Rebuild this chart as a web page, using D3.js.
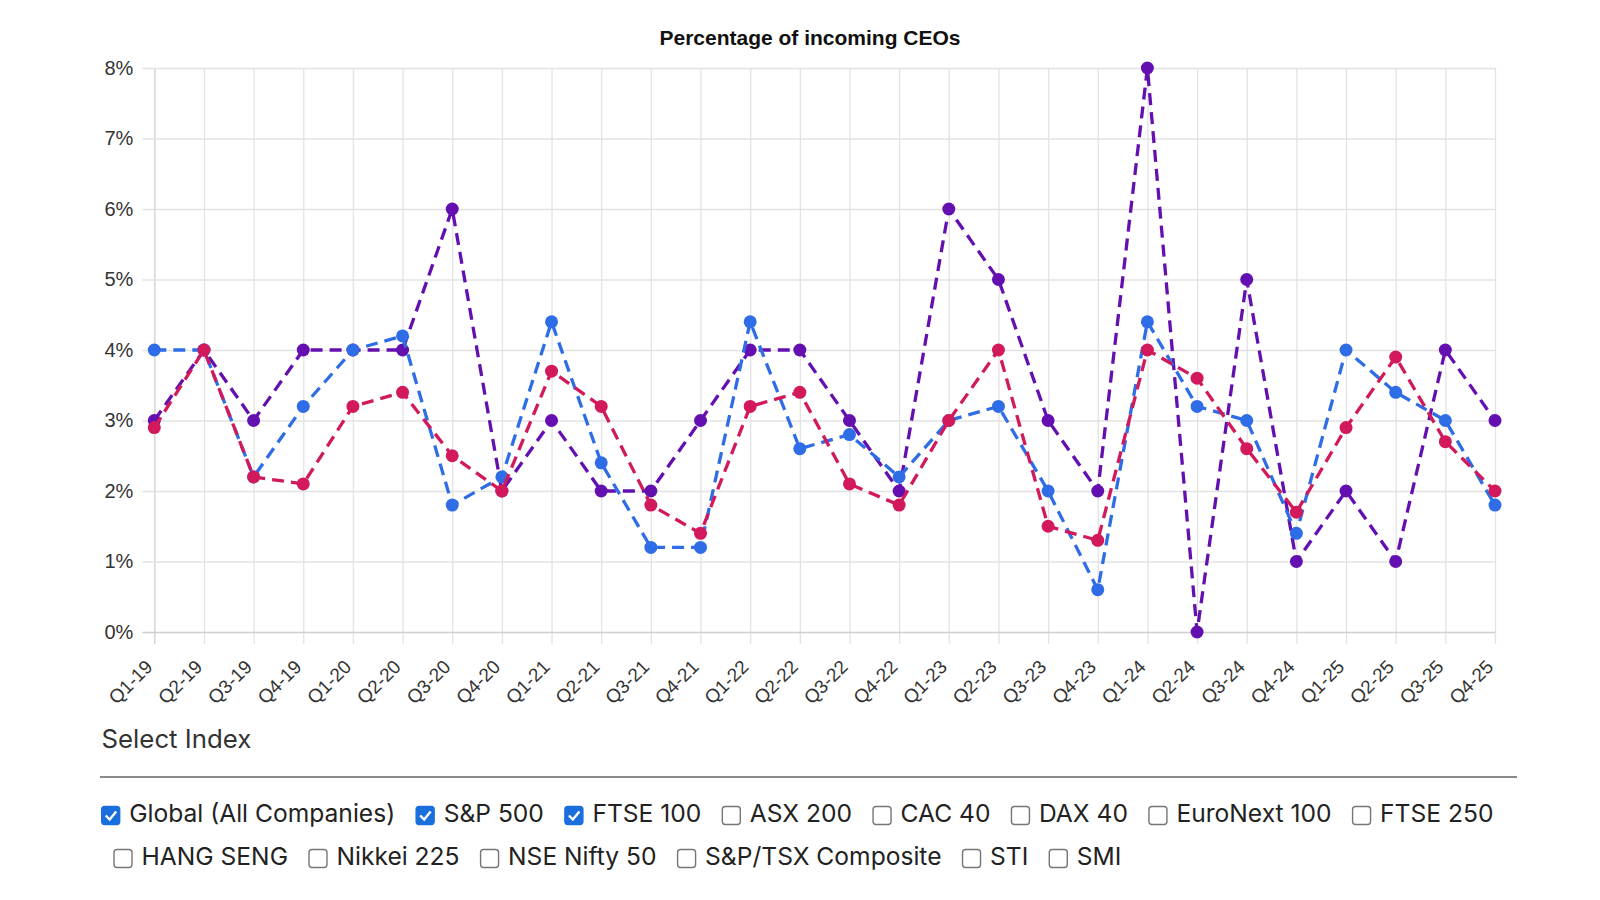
<!DOCTYPE html>
<html>
<head>
<meta charset="utf-8">
<script src="https://cdn.jsdelivr.net/npm/d3@7"></script>
<style>
  html, body { margin: 0; padding: 0; background: #fff; }
  svg { display: block; }
</style>
</head>
<body>
<svg></svg>
<script>

/* data */
var quarters = ['Q1-19','Q2-19','Q3-19','Q4-19','Q1-20','Q2-20','Q3-20','Q4-20',
  'Q1-21','Q2-21','Q3-21','Q4-21','Q1-22','Q2-22','Q3-22','Q4-22',
  'Q1-23','Q2-23','Q3-23','Q4-23','Q1-24','Q2-24','Q3-24','Q4-24',
  'Q1-25','Q2-25','Q3-25','Q4-25'];
var global_vals = [2.9, 4.0, 2.2, 2.1, 3.2, 3.4, 2.5, 2.0, 3.7, 3.2, 1.8, 1.4, 3.2, 3.4,
  2.1, 1.8, 3.0, 4.0, 1.5, 1.3, 4.0, 3.6, 2.6, 1.7, 2.9, 3.9, 2.7, 2.0];
var sp500_vals = [4.0, 4.0, 2.2, 3.2, 4.0, 4.2, 1.8, 2.2, 4.4, 2.4, 1.2, 1.2, 4.4, 2.6,
  2.8, 2.2, 3.0, 3.2, 2.0, 0.6, 4.4, 3.2, 3.0, 1.4, 4.0, 3.4, 3.0, 1.8];
var ftse100_vals = [3, 4, 3, 4, 4, 4, 6, 2, 3, 2, 2, 3, 4, 4,
  3, 2, 6, 5, 3, 2, 8, 0, 5, 1, 2, 1, 4, 3];
var yTicks = [0, 1, 2, 3, 4, 5, 6, 7, 8];
var indexNames = ['Global (All Companies)', 'S&P 500', 'FTSE 100', 'ASX 200', 'CAC 40',
  'DAX 40', 'EuroNext 100', 'FTSE 250', 'HANG SENG', 'Nikkei 225', 'NSE Nifty 50',
  'S&P/TSX Composite', 'STI', 'SMI'];
var selected = ['Global (All Companies)', 'S&P 500', 'FTSE 100'];
var title = 'Percentage of incoming CEOs';

/* series, drawn bottom to top */
var series = [
  {name: 'FTSE 100', values: ftse100_vals, color: '#6410b0'},
  {name: 'S&P 500', values: sp500_vals, color: '#2f6de6'},
  {name: 'Global (All Companies)', values: global_vals, color: '#d2195b'}
];

/* svg setting */
var svgWidth = 1600;
var svgHeight = 900;
var plot = {left: 154.3, right: 1495, top: 68, bottom: 632};
var chartFont = '"Liberation Sans", Arial, sans-serif';
var uiFont = 'Inter, Roboto, sans-serif';
var scale = {};

var svg = d3.select('svg')
    .attr('width', svgWidth)
    .attr('height', svgHeight);

setScale();
drawGrid();
drawAxisLabels();
drawSeries();
drawTitle();
drawLegend();

function setScale(){
  scale.x = d3.scalePoint()
      .domain(quarters)
      .range([plot.left, plot.right]);
  scale.y = d3.scaleLinear()
      .domain([0, 8])
      .range([plot.bottom, plot.top]);
}

function drawGrid(){
  var xg = svg.append('g')
      .attr('class', 'x_grid')
      .attr('transform', translate(0, plot.bottom + 12))
      .call(d3.axisBottom(scale.x).tickSize(-(plot.bottom - plot.top + 12)).tickFormat(''));
  xg.select('.domain').remove();
  xg.selectAll('line').attr('stroke', '#e3e3e3').attr('stroke-width', 1.3);

  var yg = svg.append('g')
      .attr('class', 'y_grid')
      .attr('transform', translate(plot.left - 12, 0))
      .call(d3.axisLeft(scale.y).tickValues(yTicks)
        .tickSize(-(plot.right - plot.left + 12)).tickFormat(''));
  yg.select('.domain').remove();
  yg.selectAll('line')
      .attr('stroke', function(d){ return d === 0 ? '#cfcfcf' : '#e3e3e3'; })
      .attr('stroke-width', 1.3);

  // left axis line a little darker
  xg.selectAll('.tick').filter(function(d, i){ return i === 0; })
      .select('line').attr('stroke', '#cfcfcf');
}

function drawAxisLabels(){
  var ya = svg.append('g')
      .attr('class', 'y_axis')
      .attr('transform', translate(plot.left - 12, 0))
      .call(d3.axisLeft(scale.y).tickValues(yTicks).tickSize(0).tickPadding(9)
        .tickFormat(function(d){ return d + '%'; }));
  ya.select('.domain').remove();
  ya.selectAll('text')
      .attr('font-family', chartFont)
      .attr('font-size', 20)
      .attr('fill', '#333');

  var xa = svg.append('g')
      .attr('class', 'x_axis')
      .attr('transform', translate(0, plot.bottom))
      .call(d3.axisBottom(scale.x).tickSize(0));
  xa.select('.domain').remove();
  xa.selectAll('text')
      .attr('font-family', chartFont)
      .attr('font-size', 19)
      .attr('fill', '#333')
      .attr('text-anchor', 'end')
      .attr('x', 0).attr('y', 0).attr('dy', 0)
      .attr('transform', 'translate(-1,36) rotate(-45)');
}

function drawSeries(){
  var line = d3.line()
      .x(function(d, i){ return scale.x(quarters[i]); })
      .y(function(d){ return scale.y(d); });

  series.forEach(function(s){
    var g = svg.append('g').attr('class', 'series');
    g.append('path')
        .datum(s.values)
        .attr('d', line)
        .attr('fill', 'none')
        .attr('stroke', s.color)
        .attr('stroke-width', 3.3)
        .attr('stroke-dasharray', '12,7');
    g.selectAll('circle')
        .data(s.values)
        .enter()
        .append('circle')
        .attr('cx', function(d, i){ return scale.x(quarters[i]); })
        .attr('cy', function(d){ return scale.y(d); })
        .attr('r', 6.5)
        .attr('fill', s.color);
  });
}

function drawTitle(){
  svg.append('text')
      .attr('x', 810)
      .attr('y', 45)
      .attr('text-anchor', 'middle')
      .attr('font-family', chartFont)
      .attr('font-weight', 'bold')
      .attr('font-size', 21)
      .attr('fill', '#111')
      .text(title);
}

function drawLegend(){
  svg.append('text')
      .attr('x', 101.5)
      .attr('y', 748)
      .attr('font-family', uiFont)
      .attr('font-size', 25.8)
      .attr('fill', '#333')
      .text('Select Index');

  svg.append('line')
      .attr('x1', 100).attr('x2', 1517)
      .attr('y1', 777).attr('y2', 777)
      .attr('stroke', '#8a8a8a')
      .attr('stroke-width', 2);

  var rows = [{x: 101.7, base: 822, maxX: 1525}, {x: 114, base: 865, maxX: 1525}];
  var row = 0;
  var x = rows[0].x;
  var g = svg.append('g').attr('class', 'legend');

  indexNames.forEach(function(name){
    var on = selected.indexOf(name) >= 0;
    var item = g.append('g');
    var txt = item.append('text')
        .attr('font-family', uiFont)
        .attr('font-size', 24.6)
        .attr('fill', '#222')
        .text(name);
    var w = txt.node().getComputedTextLength();
    if(x + 28 + w > rows[row].maxX && row < rows.length - 1){
      row += 1;
      x = rows[row].x;
    }
    var base = rows[row].base;
    txt.attr('x', x + 27.5).attr('y', base);
    item.append('rect')
        .attr('x', x).attr('y', base - 15.5)
        .attr('width', 18).attr('height', 18)
        .attr('rx', 3)
        .attr('fill', on ? '#1b6fdc' : '#fff')
        .attr('stroke', on ? '#1b6fdc' : '#767676')
        .attr('stroke-width', 1.4);
    if(on){
      item.append('path')
          .attr('d', 'M' + (x + 4) + ',' + (base - 6.5) + ' l4,4 l6.5,-8')
          .attr('fill', 'none')
          .attr('stroke', '#fff')
          .attr('stroke-width', 2.4);
    }
    x = x + 27.5 + w + 21;
  });
}

function translate(x, y) {
  return 'translate(' + x + ',' + y + ')';
}

</script>
</body>
</html>
